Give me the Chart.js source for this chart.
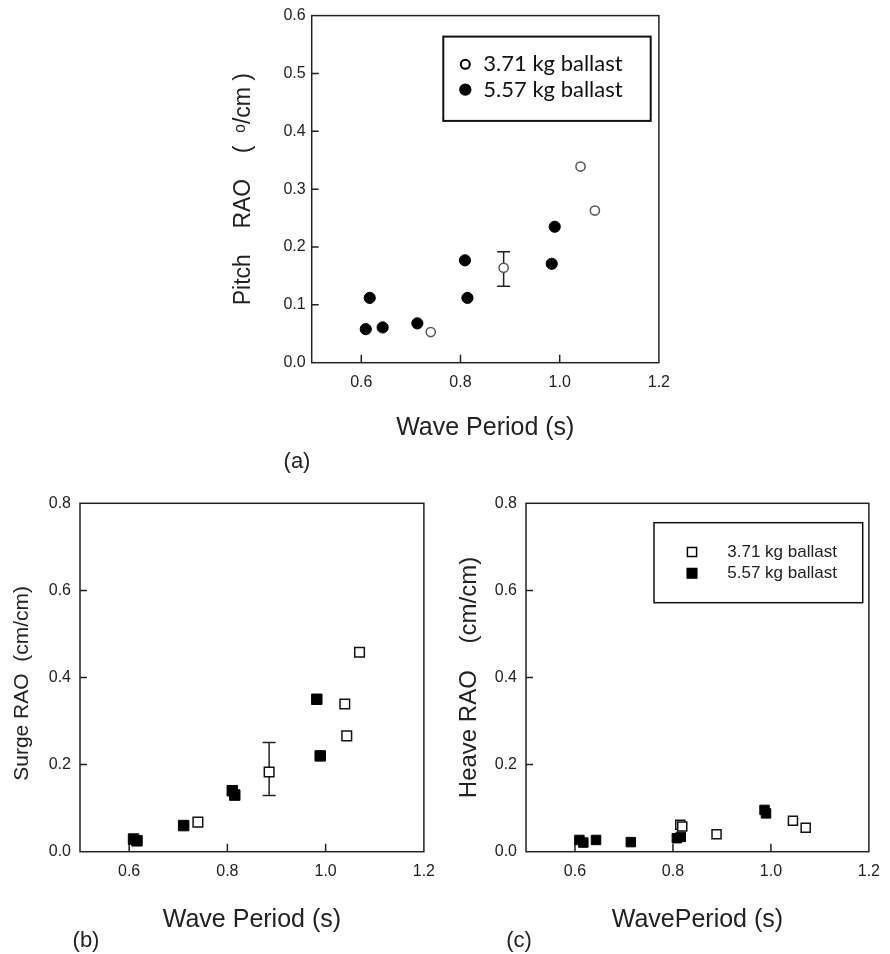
<!DOCTYPE html>
<html>
<head>
<meta charset="utf-8">
<script src="https://cdn.jsdelivr.net/npm/chart.js@4.4.0/dist/chart.umd.min.js"></script>
<style>
  body { margin: 0; background: #fff; }
  #page { position: relative; width: 890px; height: 954px; font-family: "Liberation Sans", Arial, sans-serif; color: #222; }
  canvas { position: absolute; }
  .tag { position: absolute; font-size: 22px; line-height: 22px; transform: translate(-50%, -50%); }
</style>
</head>
<body>
<div id="page">
  <canvas id="pitch" width="480" height="450" style="left:200px;top:0"></canvas>
  <canvas id="surge" width="445" height="484" style="left:0;top:470px"></canvas>
  <canvas id="heave" width="445" height="484" style="left:445px;top:470px"></canvas>
  <div class="tag" style="left:297px;top:461px">(a)</div>
  <div class="tag" style="left:86px;top:940px">(b)</div>
  <div class="tag" style="left:519px;top:940px">(c)</div>
</div>
<script>
// shared axes
const waveTicks = [0.6, 0.8, 1.0, 1.2];
const pitchTicks = [0, 0.1, 0.2, 0.3, 0.4, 0.5, 0.6];
const raoTicks = [0, 0.2, 0.4, 0.6, 0.8];
const ballastLabels = ['3.71 kg ballast', '5.57 kg ballast'];

// (a) pitch RAO
const pitchLightT = [0.740, 0.887, 1.042, 1.071];
const pitchLightV = [0.053, 0.164, 0.339, 0.263];
const pitchLightLo = [null, 0.132, null, null];
const pitchLightHi = [null, 0.192, null, null];
const pitchHeavyT = [0.609, 0.617, 0.643, 0.713, 0.809, 0.814, 0.984, 0.990];
const pitchHeavyV = [0.058, 0.112, 0.061, 0.068, 0.177, 0.112, 0.171, 0.235];

// (b) surge RAO
const surgeLightT = [0.740, 0.885, 1.039, 1.043, 1.069];
const surgeLightV = [0.068, 0.183, 0.339, 0.266, 0.458];
const surgeLightLo = [null, 0.129, null, null, null];
const surgeLightHi = [null, 0.251, null, null, null];
const surgeHeavyT = [0.609, 0.616, 0.711, 0.810, 0.815, 0.982, 0.989];
const surgeHeavyV = [0.029, 0.025, 0.060, 0.140, 0.130, 0.350, 0.220];

// (c) heave RAO
const heaveLightT = [0.815, 0.819, 0.889, 1.045, 1.071];
const heaveLightV = [0.062, 0.058, 0.040, 0.071, 0.055];
const heaveHeavyT = [0.609, 0.617, 0.643, 0.714, 0.808, 0.816, 0.987, 0.990];
const heaveHeavyV = [0.027, 0.021, 0.027, 0.022, 0.031, 0.034, 0.096, 0.088];

const TEXT = '#222';
const FAMILY = '"Liberation Sans", Arial, sans-serif';

function pts(xs, ys) {
  return xs.map((x, i) => ({ x: x, y: ys[i] }));
}

// box round the plot, inward tick marks and error bars
const framePlugin = {
  id: 'frame',
  beforeDatasetsDraw(chart) {
    const { ctx, chartArea: a, scales: { x, y } } = chart;
    ctx.save();
    ctx.strokeStyle = TEXT;
    ctx.lineWidth = 1.5;
    ctx.strokeRect(a.left, a.top, a.right - a.left, a.bottom - a.top);
    ctx.beginPath();
    x.ticks.forEach(t => {
      if (t.value <= x.min || t.value >= x.max) return;
      const px = x.getPixelForValue(t.value);
      ctx.moveTo(px, a.bottom);
      ctx.lineTo(px, a.bottom - 8);
    });
    y.ticks.forEach(t => {
      if (t.value <= y.min || t.value >= y.max) return;
      const py = y.getPixelForValue(t.value);
      ctx.moveTo(a.left, py);
      ctx.lineTo(a.left + 7, py);
    });
    ctx.stroke();

    chart.data.datasets.forEach(ds => {
      if (!ds.errLow) return;
      ds.data.forEach((p, i) => {
        const lo = ds.errLow[i], hi = ds.errHigh[i];
        if (lo == null) return;
        const px = x.getPixelForValue(p.x);
        const y1 = y.getPixelForValue(lo), y2 = y.getPixelForValue(hi);
        ctx.beginPath();
        ctx.moveTo(px, y1); ctx.lineTo(px, y2);
        ctx.moveTo(px - 6.5, y1); ctx.lineTo(px + 6.5, y1);
        ctx.moveTo(px - 6.5, y2); ctx.lineTo(px + 6.5, y2);
        ctx.stroke();
      });
    });
    ctx.restore();
  }
};

// framed legend inside the plot
const boxLegend = {
  id: 'boxLegend',
  afterDatasetsDraw(chart, args, o) {
    if (!o.box) return;
    const { ctx, chartArea: a } = chart;
    const bx = a.left + o.box[0], by = a.top + o.box[1];
    ctx.save();
    ctx.fillStyle = '#fff';
    ctx.fillRect(bx, by, o.box[2], o.box[3]);
    ctx.strokeStyle = '#111';
    ctx.lineWidth = o.lineWidth;
    ctx.strokeRect(bx, by, o.box[2], o.box[3]);
    ctx.font = o.font;
    ctx.textBaseline = 'middle';
    chart.data.datasets.forEach((ds, i) => {
      const cy = by + o.rows[i];
      const mx = bx + o.markerX;
      const r = o.markerSize[i];
      ctx.beginPath();
      if (ds.pointStyle === 'rect') ctx.rect(mx - r, cy - r, 2 * r, 2 * r);
      else ctx.arc(mx, cy, r, 0, Math.PI * 2);
      ctx.fillStyle = ds.pointBackgroundColor;
      ctx.fill();
      ctx.lineWidth = o.markerLine;
      ctx.strokeStyle = '#000';
      ctx.stroke();
      ctx.fillStyle = o.textColor;
      ctx.fillText(ds.label, bx + o.textX, cy);
    });
    ctx.restore();
  }
};

function buildChart(id, o) {
  return new Chart(document.getElementById(id), {
    type: 'scatter',
    data: { datasets: o.datasets },
    options: {
      responsive: false,
      animation: false,
      devicePixelRatio: 1,
      layout: { padding: { top: o.pad[0], right: o.pad[1], bottom: 0, left: 0 } },
      plugins: {
        legend: { display: false },
        tooltip: { enabled: false },
        boxLegend: o.legend || {}
      },
      scales: {
        x: {
          type: 'linear', min: 0.5, max: 1.2,
          afterBuildTicks: s => { s.ticks = waveTicks.map(v => ({ value: v })); },
          afterFit: s => { s.height = o.xH; },
          grid: { display: false, drawTicks: false },
          border: { display: false },
          ticks: { padding: 10, color: TEXT, font: { family: FAMILY, size: 16 }, callback: v => v.toFixed(1) },
          title: { display: true, text: o.xTitle, color: TEXT, font: { family: FAMILY, size: 25 }, padding: { top: 0, bottom: o.xTitlePad } }
        },
        y: {
          type: 'linear', min: o.yTicks[0], max: o.yTicks[o.yTicks.length - 1],
          afterBuildTicks: s => { s.ticks = o.yTicks.map(v => ({ value: v })); },
          afterFit: s => { s.width = o.yW; },
          grid: { display: false, drawTicks: false },
          border: { display: false },
          ticks: { padding: o.yTickPad, color: TEXT, font: { family: FAMILY, size: 16 }, callback: v => v.toFixed(1) },
          title: { display: true, text: o.yTitle, color: TEXT, font: { family: FAMILY, size: o.yTitleSize }, padding: { top: o.yTitlePad, bottom: 0 } }
        }
      }
    },
    plugins: [framePlugin, boxLegend]
  });
}

buildChart('pitch', {
  pad: [14, 19.3], xH: 87.3, yW: 111.7, yTicks: pitchTicks, yTickPad: 6,
  xTitle: 'Wave Period (s)', xTitlePad: 7,
  yTitle: 'Pitch    RAO    (  \u1D52/cm )', yTitleSize: 23, yTitlePad: 30.2,
  legend: { box: [131.6, 21, 207.4, 84.3], lineWidth: 2, font: '22px Lato', textColor: '#111',
            rows: [27.7, 53], markerX: 22, textX: 40, markerSize: [4.5, 5.2], markerLine: 2 },
  datasets: [
    { label: ballastLabels[0], data: pts(pitchLightT, pitchLightV), errLow: pitchLightLo, errHigh: pitchLightHi,
      pointStyle: 'circle', pointRadius: 4.6, pointBackgroundColor: '#fff', pointBorderColor: '#555', pointBorderWidth: 1.5 },
    { label: ballastLabels[1], data: pts(pitchHeavyT, pitchHeavyV),
      pointStyle: 'circle', pointRadius: 5.6, pointBackgroundColor: '#000', pointBorderColor: '#000', pointBorderWidth: 1 }
  ]
});

buildChart('surge', {
  pad: [33.3, 16.7], xH: 102.3, yW: 80, yTicks: raoTicks, yTickPad: 9,
  xTitle: 'Wave Period (s)', xTitlePad: 19,
  yTitle: 'Surge RAO  (cm/cm)  ', yTitleSize: 21, yTitlePad: 9.8,
  datasets: [
    { label: ballastLabels[0], data: pts(surgeLightT, surgeLightV), errLow: surgeLightLo, errHigh: surgeLightHi,
      pointStyle: 'rect', pointRadius: 6.8, pointBackgroundColor: '#fff', pointBorderColor: '#111', pointBorderWidth: 1.5 },
    { label: ballastLabels[1], data: pts(surgeHeavyT, surgeHeavyV),
      pointStyle: 'rect', pointRadius: 7.4, pointBackgroundColor: '#000', pointBorderColor: '#000', pointBorderWidth: 1 }
  ]
});

buildChart('heave', {
  pad: [33.3, 16], xH: 102.3, yW: 81, yTicks: raoTicks, yTickPad: 9,
  xTitle: 'WavePeriod (s)', xTitlePad: 19,
  yTitle: 'Heave RAO    (cm/cm)', yTitleSize: 24, yTitlePad: 9.9,
  legend: { box: [128, 19.4, 208.7, 80], lineWidth: 1.5, font: '17px "Liberation Sans"', textColor: '#222',
            rows: [29.3, 50.6], markerX: 38, textX: 73.3, markerSize: [4.6, 4.8], markerLine: 1.5 },
  datasets: [
    { label: ballastLabels[0], data: pts(heaveLightT, heaveLightV),
      pointStyle: 'rect', pointRadius: 6.4, pointBackgroundColor: '#fff', pointBorderColor: '#111', pointBorderWidth: 1.5 },
    { label: ballastLabels[1], data: pts(heaveHeavyT, heaveHeavyV),
      pointStyle: 'rect', pointRadius: 6.7, pointBackgroundColor: '#000', pointBorderColor: '#000', pointBorderWidth: 1 }
  ]
});
</script>
</body>
</html>
